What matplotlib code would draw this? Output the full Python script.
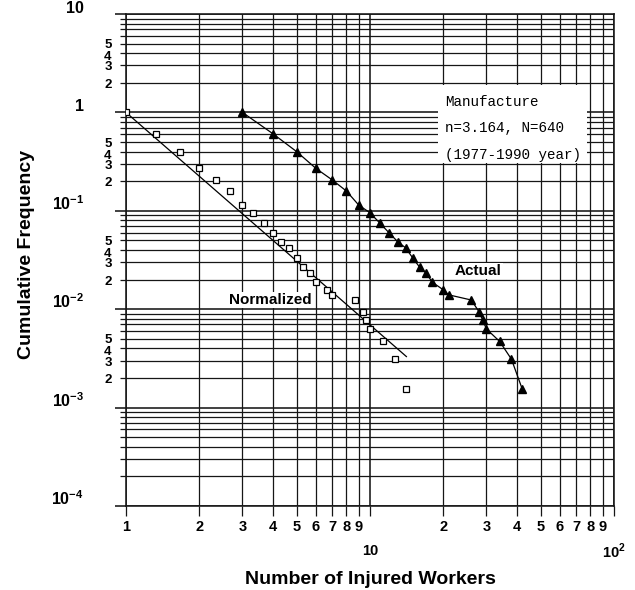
import matplotlib
matplotlib.use('Agg')
import matplotlib.pyplot as plt
from matplotlib.patches import Rectangle
from matplotlib.ticker import LogLocator, NullFormatter

plt.rcParams['font.family'] = ['Liberation Sans', 'DejaVu Sans']
plt.rcParams['mathtext.fontset'] = 'custom'
plt.rcParams['mathtext.rm'] = 'Liberation Sans:bold'
plt.rcParams['mathtext.bf'] = 'Liberation Sans:bold'

# ── data ──
actual_x = [3, 4, 5, 6, 7, 8, 9, 10, 11, 12, 13, 14, 15, 16, 17, 18,
            20, 21, 26, 28, 29, 30, 34, 38, 42]
cum_freq = [1.0, 0.607, 0.40, 0.27, 0.206, 0.159, 0.114, 0.0955, 0.0745,
            0.0594, 0.0484, 0.042, 0.0329, 0.0266, 0.0232, 0.0188, 0.0157,
            0.0140, 0.0124, 0.0094, 0.0077, 0.0063, 0.0047, 0.0031, 0.00156]
norm_x = [1.0, 1.33, 1.67, 2.0, 2.33, 2.67, 3.0, 3.33, 3.67, 4.0, 4.33,
          4.67, 5.0, 5.33, 5.67, 6.0, 6.67, 7.0, 8.67, 9.33, 9.67, 10.0,
          11.33, 12.67, 14.0]
fit_x = [1.0, 14.1]
fit_y = [1.0, 0.0033]

y_major = [10, 1, 0.1, 0.01, 0.001, 0.0001]
y_major_lbl = ['10', '1', r'$10^{-1}$', r'$10^{-2}$', r'$10^{-3}$', r'$10^{-4}$']
x_minor_lbl = [2, 3, 4, 5, 6, 7, 8, 9]

W, H = 635, 590
fig = plt.figure(figsize=(W / 100, H / 100), dpi=100)
L, R, T, B = 126, 614, 14, 506
ax = fig.add_axes([L / W, 1 - B / H, (R - L) / W, (B - T) / H])
ax.set_xscale('log')
ax.set_yscale('log')
ax.set_xlim(1, 100)
ax.set_ylim(1e-4, 10)

gc = '#161616'
ax.xaxis.set_major_locator(LogLocator(base=10, numticks=10))
ax.xaxis.set_minor_locator(LogLocator(base=10, subs=range(2, 10), numticks=20))
ax.yaxis.set_major_locator(LogLocator(base=10, numticks=10))
ax.yaxis.set_minor_locator(LogLocator(base=10, subs=range(2, 10), numticks=20))
ax.xaxis.set_major_formatter(NullFormatter())
ax.xaxis.set_minor_formatter(NullFormatter())
ax.yaxis.set_major_formatter(NullFormatter())
ax.yaxis.set_minor_formatter(NullFormatter())
ax.grid(which='major', color=gc, lw=1.15)
ax.grid(which='minor', color=gc, lw=0.9)
ax.tick_params(axis='x', which='both', direction='out', length=7, width=0.9, color=gc)
ax.tick_params(axis='y', which='major', direction='out', length=8, width=1.15, color=gc)
ax.tick_params(axis='y', which='minor', direction='out', length=4.5, width=0.9, color=gc)
for s in ax.spines.values():
    s.set_color(gc)
    s.set_linewidth(1.15)
ax.set_axisbelow(True)

# ── series ──
ax.plot(fit_x, fit_y, color='black', lw=0.9, zorder=3)
ax.plot(norm_x, cum_freq, ls='none', marker='s', ms=5, mfc='white',
        mec='black', mew=0.9, zorder=4)
ax.plot(actual_x, cum_freq, color='black', lw=0.9, marker='^', ms=5.5,
        mfc='black', mec='black', zorder=4)

# ── tick labels ──
for v, s in zip(y_major, y_major_lbl):
    ax.annotate(s, xy=(0, v), xycoords=('axes fraction', 'data'),
                xytext=(-42, 1), textcoords='offset pixels',
                ha='right', va='baseline', fontsize=11.5, fontweight='bold')
# stacked 5/4/3/2 labels sit a little below their lines, as on the paper
minor_shift = {5: -1.5, 4: -4, 3: -2, 2: -2}
for dec in [1, 0.1, 0.01, 0.001]:
    for m in [2, 3, 4, 5]:
        ax.annotate(str(m), xy=(0, m * dec), xycoords=('axes fraction', 'data'),
                    xytext=(-18, minor_shift[m]), textcoords='offset pixels',
                    ha='center', va='center', fontsize=9.5, fontweight='bold')

ax.annotate('1', xy=(1, 0), xycoords=('data', 'axes fraction'),
            xytext=(0, -21), textcoords='offset pixels',
            ha='center', va='center', fontsize=10.5, fontweight='bold')
for dec in [1, 10]:
    for m in x_minor_lbl:
        ax.annotate(str(m), xy=(m * dec, 0), xycoords=('data', 'axes fraction'),
                    xytext=(0, -21), textcoords='offset pixels',
                    ha='center', va='center', fontsize=10.5, fontweight='bold')
ax.annotate('10', xy=(10, 0), xycoords=('data', 'axes fraction'),
            xytext=(0, -45), textcoords='offset pixels',
            ha='center', va='center', fontsize=10.5, fontweight='bold')
ax.annotate(r'$10^{2}$', xy=(100, 0), xycoords=('data', 'axes fraction'),
            xytext=(0, -45), textcoords='offset pixels',
            ha='center', va='center', fontsize=10.5, fontweight='bold')

fig.text(370 / W, 1 - 579 / H, 'Number of Injured Workers', ha='center',
         va='center', fontsize=14, fontweight='bold')
fig.text(27 / W, 1 - 254 / H, 'Cumulative Frequency', ha='center',
         va='center', rotation=90, fontsize=14, fontweight='bold')

# ── annotation box ──
ax.add_patch(Rectangle((0.639, 0.697), 0.306, 0.159, transform=ax.transAxes,
                       facecolor='white', edgecolor='none', zorder=2.5))
for yy, s in zip([0.822, 0.769, 0.713],
                 ['Manufacture', 'n=3.164, N=640', '(1977-1990 year)']):
    ax.text(0.654, yy, s, transform=ax.transAxes, fontsize=10.3,
            family='Liberation Mono', va='center', ha='left', zorder=5)

ax.text((270 - L) / (R - L), (B - 300) / (B - T), 'Normalized',
        transform=ax.transAxes, ha='center', va='center', fontsize=11,
        fontweight='bold', zorder=5,
        bbox=dict(facecolor='white', edgecolor='none', pad=1))
ax.text((478 - L) / (R - L), (B - 271) / (B - T), 'Actual',
        transform=ax.transAxes, ha='center', va='center', fontsize=11,
        fontweight='bold', zorder=5,
        bbox=dict(facecolor='white', edgecolor='none', pad=1))

plt.savefig('out.png', dpi=100, facecolor='white')
plt.close()
